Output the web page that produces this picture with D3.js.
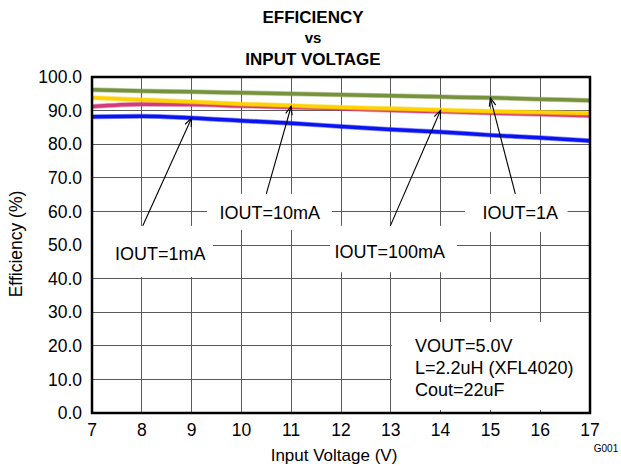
<!DOCTYPE html>
<html><head><meta charset="utf-8">
<script src="https://cdn.jsdelivr.net/npm/d3@7"></script>
<style>
html,body{margin:0;padding:0;background:#fff;}
svg{display:block;font-family:"Liberation Sans",Arial,sans-serif;}
</style></head>
<body>
<svg id="chart" width="621" height="471"></svg>
<script>
// ---- data ----
const voltages = [7, 8, 9, 10, 11, 12, 13, 14, 15, 16, 17];
const eff1mA   = [88.2, 88.3, 87.8, 87.0, 86.2, 85.3, 84.4, 83.6, 82.7, 81.9, 81.0];
const eff10mA  = [91.2, 91.9, 91.8, 91.4, 91.0, 90.6, 90.1, 89.7, 89.3, 88.9, 88.5];
const eff100mA = [93.8, 93.2, 92.6, 92.0, 91.5, 91.0, 90.6, 90.2, 89.8, 89.5, 89.2];
const eff1A    = [96.2, 95.8, 95.6, 95.3, 95.0, 94.7, 94.4, 94.1, 93.8, 93.4, 93.0];
const xTicks = [7, 8, 9, 10, 11, 12, 13, 14, 15, 16, 17];
const yTicks = [0, 10, 20, 30, 40, 50, 60, 70, 80, 90, 100];
const seriesNames = ["IOUT=1mA", "IOUT=10mA", "IOUT=100mA", "IOUT=1A"];
const noteLines = ["VOUT=5.0V", "L=2.2uH (XFL4020)", "Cout=22uF"];

// ---- layout ----
const L = 92, R = 590, T = 77, B = 413;
const svg = d3.select("#chart");
const x = d3.scaleLinear().domain([7, 17]).range([L, R]);
const y = d3.scaleLinear().domain([0, 100]).range([B, T]);

const series = [
  {name: seriesNames[0], values: eff1mA,   color: "#0a14f0"},
  {name: seriesNames[1], values: eff10mA,  color: "#d23c7a"},
  {name: seriesNames[3], values: eff1A,    color: "#76923c"},
  {name: seriesNames[2], values: eff100mA, color: "#ffd200"}
];

// gridlines
const g = svg.append("g");
g.selectAll(".vg").data(xTicks.slice(1, -1)).join("line")
  .attr("x1", d => x(d)).attr("x2", d => x(d)).attr("y1", T).attr("y2", B)
  .attr("stroke", "#5a5a5a").attr("stroke-width", 1).attr("shape-rendering", "crispEdges");
g.selectAll(".hg").data(yTicks.slice(1, -1)).join("line")
  .attr("y1", d => y(d)).attr("y2", d => y(d)).attr("x1", L).attr("x2", R)
  .attr("stroke", "#5a5a5a").attr("stroke-width", 1).attr("shape-rendering", "crispEdges");

// curves
const line = d3.line().x((d, i) => x(voltages[i])).y(d => y(d)).curve(d3.curveMonotoneX);
series.forEach(s => {
  svg.append("path").datum(s.values).attr("d", line)
    .attr("fill", "none").attr("stroke", s.color).attr("stroke-width", 5).attr("stroke-opacity", 0.45);
  svg.append("path").datum(s.values).attr("d", line)
    .attr("fill", "none").attr("stroke", s.color).attr("stroke-width", 3.5);
});

// annotations: label center (data coords), box (data coords), arrow from/to
function valAt(arr, v) { return arr[voltages.indexOf(v)]; }
const annots = [
  {text: seriesNames[0], cx: 8.37, cy: 47.3, box: [7.02, 9.43, 40.5, 55.7], from: [8.02, 55.7], to: [9, valAt(eff1mA, 9)]},
  {text: seriesNames[1], cx: 10.57, cy: 59.6, box: [9.31, 11.82, 54.5, 65.2], from: [10.5, 65.2], to: [11, valAt(eff10mA, 11) + 0.3]},
  {text: seriesNames[2], cx: 12.98, cy: 47.9, box: [11.78, 14.33, 41.9, 55.7], from: [12.99, 55.7], to: [14, valAt(eff100mA, 14) - 0.1]},
  {text: seriesNames[3], cx: 15.6, cy: 59.6, box: [14.49, 16.55, 53.9, 65.2], from: [15.5, 65.2], to: [15, valAt(eff1A, 15)]}
];
annots.forEach(a => {
  svg.append("rect").attr("x", x(a.box[0])).attr("y", y(a.box[3]))
    .attr("width", x(a.box[1]) - x(a.box[0])).attr("height", y(a.box[2]) - y(a.box[3]))
    .attr("fill", "#fff");
});
annots.forEach(a => {
  const x1 = x(a.from[0]), y1 = y(a.from[1]), x2 = x(a.to[0]), y2 = y(a.to[1]);
  svg.append("line").attr("x1", x1).attr("y1", y1).attr("x2", x2).attr("y2", y2)
    .attr("stroke", "#000").attr("stroke-width", 1.1);
  const ang = Math.atan2(y2 - y1, x2 - x1), len = 9, spread = 0.38;
  const p1 = [x2 - len * Math.cos(ang - spread), y2 - len * Math.sin(ang - spread)];
  const p2 = [x2 - len * Math.cos(ang + spread), y2 - len * Math.sin(ang + spread)];
  svg.append("path").attr("d", `M${p1[0]},${p1[1]}L${x2},${y2}L${p2[0]},${p2[1]}`)
    .attr("fill", "none").attr("stroke", "#000").attr("stroke-width", 1.1);
  svg.append("text").attr("x", x(a.cx)).attr("y", y(a.cy)).attr("dy", "0.35em")
    .attr("text-anchor", "middle").attr("font-size", 18).text(a.text);
});

// note box
svg.append("rect").attr("x", x(13) + 1).attr("y", y(27.1)).attr("width", R - x(13) - 1)
  .attr("height", y(0.9) - y(27.1)).attr("fill", "#fff");
noteLines.forEach((t, i) => {
  svg.append("text").attr("x", 415).attr("y", 346 + i * 22).attr("dy", "0.35em")
    .attr("font-size", 18).text(t);
});

// frame
svg.append("rect").attr("x", L).attr("y", T).attr("width", R - L).attr("height", B - T)
  .attr("fill", "none").attr("stroke", "#000").attr("stroke-width", 2.5);

// axes labels
svg.selectAll(".yt").data(yTicks).join("text")
  .attr("x", L - 10).attr("y", d => y(d)).attr("dy", "0.35em").attr("text-anchor", "end")
  .attr("font-size", 17.5).text(d => d.toFixed(1));
svg.selectAll(".xt").data(xTicks).join("text")
  .attr("x", d => x(d)).attr("y", 430).attr("dy", "0.35em").attr("text-anchor", "middle")
  .attr("font-size", 17.5).text(d => d);

svg.append("text").attr("x", 334).attr("y", 455).attr("dy", "0.35em")
  .attr("text-anchor", "middle").attr("font-size", 17).text("Input Voltage (V)");
svg.append("text").attr("transform", `translate(16,${(T + B) / 2 - 1}) rotate(-90)`)
  .attr("dy", "0.35em").attr("text-anchor", "middle").attr("font-size", 17.5).text("Efficiency (%)");
svg.append("text").attr("x", 606).attr("y", 448).attr("dy", "0.35em")
  .attr("text-anchor", "middle").attr("font-size", 10).text("G001");

// title
const title = ["EFFICIENCY", "vs", "INPUT VOLTAGE"];
title.forEach((t, i) => {
  svg.append("text").attr("x", 313).attr("y", 17 + i * 21).attr("dy", "0.35em")
    .attr("text-anchor", "middle").attr("font-weight", "bold")
    .attr("font-size", i === 1 ? 15 : 17).text(t);
});
</script>
</body></html>
